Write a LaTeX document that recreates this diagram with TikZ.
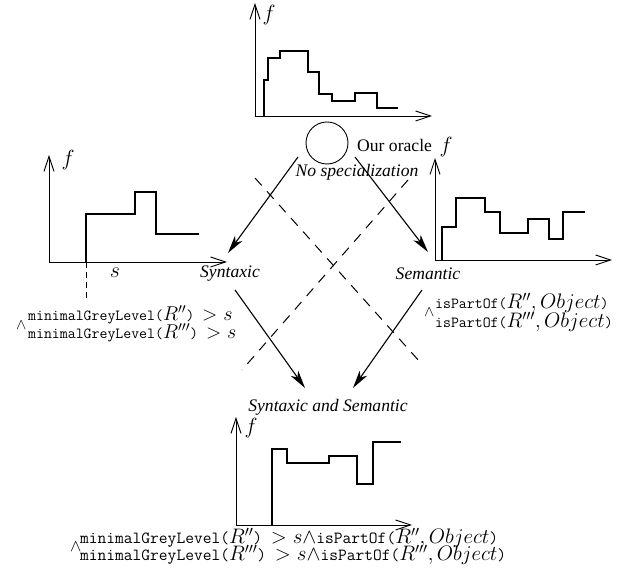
\RequirePackage{fix-cm}
\documentclass[tikz,border=0pt]{standalone}
\usepackage{fontspec}
\setmainfont{Liberation Serif}
\usetikzlibrary{arrows.meta}

% math pieces of the conditions are set larger than the typewriter text
\newcommand{\mth}[1]{{\fontsize{20}{22}\selectfont$#1$}}
\newcommand{\mthbig}[1]{{\fontsize{21}{23}\selectfont$#1$}}

\tikzset{
	axes/.style={line width=0.9pt,{Straight Barb[length=15pt,width=10pt]}-{Straight Barb[length=15pt,width=10pt]}},
	hist/.style={line width=1.3pt},
	flow/.style={line width=1.1pt,-{Stealth[length=18pt,width=9pt,inset=5pt]}},
	divider/.style={line width=1pt,dash pattern=on 10pt off 8pt},
	lbl/.style={font=\fontsize{17.6}{20}\selectfont\itshape,inner sep=0pt},
	flbl/.style={font=\fontsize{22}{24}\selectfont,inner sep=0pt},
	formula/.style={font=\fontsize{15.4}{18}\selectfont\ttfamily,anchor=west,inner sep=0pt},
	formulabig/.style={font=\fontsize{17}{20}\selectfont\ttfamily,anchor=west,inner sep=0pt},
}

\begin{document}
\begin{tikzpicture}[x=1pt,y=1pt]
	\useasboundingbox (0,0) rectangle (630,578);

	% no specialization (top)
	\begin{scope}[shift={(255,462)}]
		\draw[axes] (0,113) -- (0,0) -- (177,0);
		\draw[hist] (9,0) -- (9,36) -- (13,36) -- (13,58) -- (25,58) -- (25,65)
			-- (53,65) -- (53,44) -- (64,44) -- (64,22) -- (77,22) -- (77,15)
			-- (100,15) -- (100,23) -- (122,23) -- (122,8) -- (143,8);
		\node[flbl] (f-top) at (14,101) {$f$};
	\end{scope}

	% syntaxic (left)
	\begin{scope}[shift={(49,316)}]
		\draw[axes] (0,107) -- (0,0) -- (178,0);
		\draw[hist] (37,0) -- (37,48) -- (86,48) -- (86,70) -- (107,70)
			-- (107,28) -- (150,28);
		\draw[line width=0.9pt,dash pattern=on 6pt off 4pt] (37,0) -- (37,-36);
		\node[flbl] (f-left) at (19,102) {$f$};
		\node[flbl] (s-val) at (66,-11) {$s$};
	\end{scope}

	% semantic (right)
	\begin{scope}[shift={(435,318)}]
		\draw[axes] (0,102) -- (0,0) -- (177,0);
		\draw[hist] (7,0) -- (7,33) -- (21,33) -- (21,62) -- (50,62) -- (50,48)
			-- (65,48) -- (65,27) -- (93,27) -- (93,41) -- (114,41) -- (114,21)
			-- (128,21) -- (128,48) -- (150,48);
		\node[flbl] (f-right) at (11,113) {$f$};
	\end{scope}

	% syntaxic and semantic (bottom)
	\begin{scope}[shift={(236,53)}]
		\draw[axes] (0,108) -- (0,0) -- (176,0);
		\draw[hist] (36,0) -- (36,76) -- (51,76) -- (51,62) -- (93,62) -- (93,69)
			-- (121,69) -- (121,41) -- (137,41) -- (137,83) -- (165,83);
		\node[flbl] (f-bot) at (15,97) {$f$};
	\end{scope}

	% oracle and labels
	\node[draw,circle,line width=0.9pt,minimum size=42pt,inner sep=0pt] (orc) at (327,435) {};
	\node[font=\fontsize{17.6}{20}\selectfont,anchor=west,inner sep=0pt] (orc-txt) at (357,433) {Our oracle};
	\node[lbl] (nospec) at (357,406) {No specialization};
	\node[lbl] (syn) at (230,304) {Syntaxic};
	\node[lbl] (sem) at (428,304) {Semantic};
	\node[lbl] (both) at (328,171) {Syntaxic and Semantic};

	% arrow ends
	\coordinate (orc-l) at (298,421);
	\coordinate (orc-r) at (355,421);
	\coordinate (syn-in) at (228,325);
	\coordinate (sem-in) at (428,326);
	\coordinate (syn-out) at (235,288);
	\coordinate (sem-out) at (422,288);
	\coordinate (both-l) at (305,190);
	\coordinate (both-r) at (353,190);

	\draw[flow] (orc-l) -- (syn-in);
	\draw[flow] (orc-r) -- (sem-in);
	\draw[flow] (syn-out) -- (both-l);
	\draw[flow] (sem-out) -- (both-r);

	% crossing dashed lines
	\draw[divider] (255,400) -- (420,216);
	\draw[divider] (408,398) -- (242,208);

	% conditions
	\node[formula] (syn-c1) at (28,263) {minimalGreyLevel(\mth{R''}) \mth{>}\hspace{6pt}\mth{s}};
	\node[formula] (syn-and) at (16,253) {$\wedge$};
	\node[formula] (syn-c2) at (28,245) {minimalGreyLevel(\mth{R'''}) \mth{>}\hspace{6pt}\mth{s}};

	\node[formula] (sem-c1) at (435,275) {isPartOf(\mthbig{R'', Object})};
	\node[formula] (sem-and) at (424,266) {$\wedge$};
	\node[formula] (sem-c2) at (435,256) {isPartOf(\mthbig{R''', Object})};

	\node[formulabig] (both-c1) at (80,40) {minimalGreyLevel(\mthbig{R''}) \mthbig{>s\wedge}isPartOf(\mthbig{R'', Object})};
	\node[formulabig] (both-and) at (70,31) {$\wedge$};
	\node[formulabig] (both-c2) at (80,23) {minimalGreyLevel(\mthbig{R'''}) \mthbig{>s\wedge}isPartOf(\mthbig{R''', Object})};
\end{tikzpicture}
\end{document}
